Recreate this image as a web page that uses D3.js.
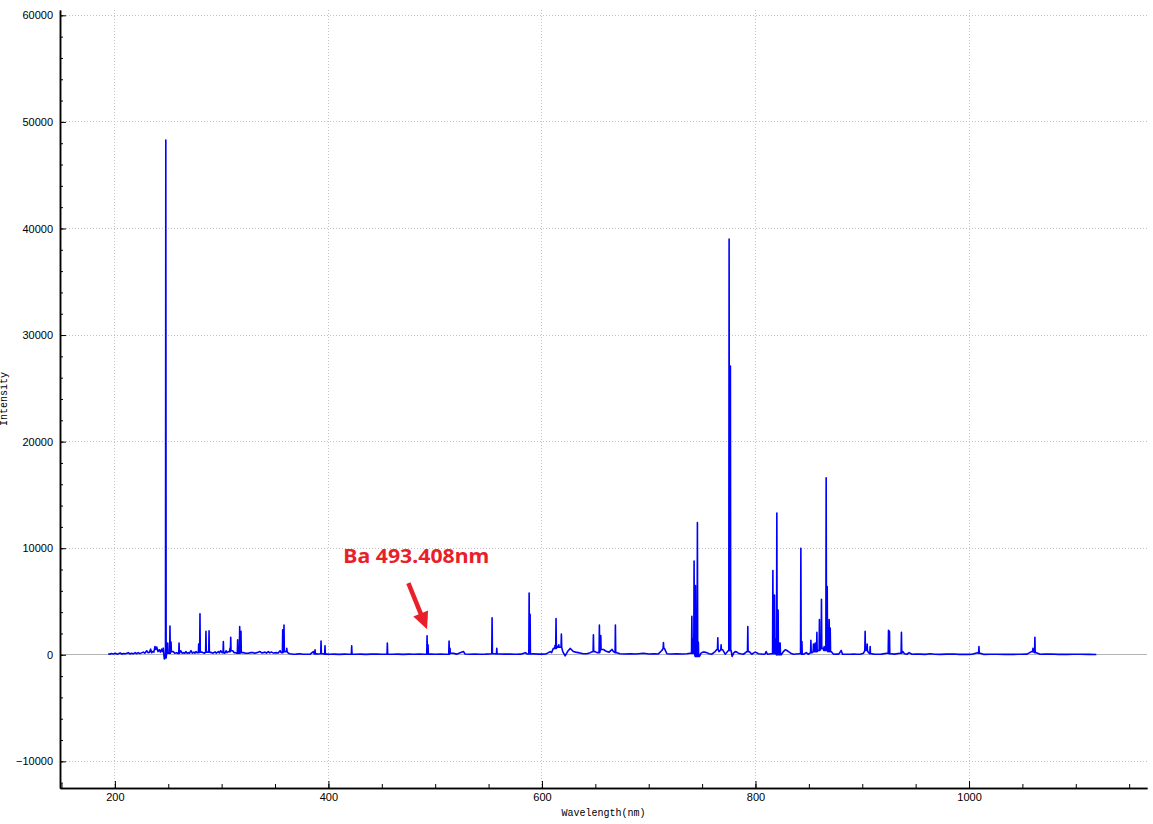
<!DOCTYPE html>
<html><head><meta charset="utf-8">
<script src="https://cdn.jsdelivr.net/npm/d3@7/dist/d3.min.js"></script>
<style>body{margin:0;background:#fff}svg{display:block}</style>
</head><body>
<svg id="chart" width="1153" height="824"></svg>
<script>
// ---- data ----
const xTickValues = [200, 400, 600, 800, 1000];
const yTickValues = [-10000, 0, 10000, 20000, 30000, 40000, 50000, 60000];
const xAxisTitle = "Wavelength(nm)";
const yAxisTitle = "Intensity";
const annotationText = "Ba 493.408nm";

// continuum / noise of the spectrum (nm, counts)
const baselineWavelengths = [
 193.8,195.0,196.5,198.5,200.5,202.0,203.2,205.0,206.5,207.9,210.0,212.6,214.0,215.5,217.2,219.0,220.5,221.9,223.5,225.0,
 226.6,228.0,229.8,231.0,232.5,233.5,234.5,235.4,236.5,237.6,238.4,239.2,240.4,241.6,242.7,243.8,244.6,245.3,246.3,247.2,
 248.5,250.5,254.7,256.0,257.9,259.0,261.6,263.0,264.1,265.5,266.6,267.5,268.8,270.0,271.3,272.5,274.1,275.0,276.0,277.0,
 281.3,282.8,284.0,286.5,290.7,292.0,293.8,295.0,296.9,298.0,299.1,300.5,303.0,304.1,305.0,306.3,310.4,311.5,313.0,314.0,
 320.3,322.5,325.0,327.0,329.7,331.0,333.0,335.9,337.5,339.0,340.6,342.0,343.7,345.0,346.9,348.5,350.0,351.6,353.0,354.7,
 355.7,359.6,362.5,364.0,367.1,370.0,373.4,376.0,379.7,383.0,385.9,386.7,388.5,390.6,394.7,398.5,401.5,405.0,410.0,415.0,
 419.0,425.0,430.0,435.0,440.0,445.3,450.0,460.0,465.0,470.0,475.0,480.0,485.0,490.0,496.0,500.0,505.0,510.0,517.0,520.0,
 526.4,528.0,532.0,537.0,542.0,547.0,551.0,555.0,560.0,565.0,570.0,575.0,580.0,584.5,586.0,592.0,596.0,600.0,604.0,607.6,
 609.0,610.7,617.0,619.5,621.7,624.0,626.4,628.0,629.5,631.5,634.1,636.5,638.8,642.0,645.1,646.5,649.8,651.5,657.6,659.0,
 660.7,663.0,665.7,666.9,670.1,673.0,677.0,682.6,688.0,695.0,700.0,705.0,709.0,712.3,714.7,717.0,721.0,726.3,731.0,735.7,
 738.8,747.5,749.0,750.7,752.5,754.4,756.5,759.1,762.2,763.8,765.9,769.4,771.6,774.7,777.2,778.1,779.5,781.0,782.5,784.0,
 786.0,788.7,791.9,794.1,796.6,798.0,799.7,801.0,802.8,805.0,807.5,809.0,810.0,811.2,813.0,815.3,824.1,826.2,827.8,829.5,
 830.9,833.0,835.6,838.0,841.2,845.0,847.5,849.6,853.1,855.3,856.5,858.7,863.1,865.3,870.9,873.1,876.0,878.0,880.3,881.5,
 885.6,888.7,891.8,895.0,898.1,901.2,903.7,905.8,908.6,911.0,913.7,918.0,923.1,926.8,930.0,935.5,938.0,939.5,941.8,943.9,
 946.5,950.0,954.3,959.0,963.6,968.0,973.0,979.0,985.4,991.0,998.0,1003.0,1007.9,1010.5,1013.6,1020.0,1026.1,1034.0,1041.7,1048.0,
 1054.3,1058.5,1063.0,1066.7,1071.0,1076.1,1084.0,1091.7,1098.0,1104.2,1112.0,1119.2
];
const baselineIntensities = [
 100,60,120,80,150,60,100,170,60,120,90,200,80,150,90,200,100,200,110,180,
 250,150,380,200,250,530,200,300,250,780,500,720,300,470,250,530,300,620,-400,-300,
 200,150,300,150,200,120,380,150,200,150,300,150,200,150,380,150,250,150,300,200,
 250,200,150,250,200,150,280,150,300,180,380,200,150,380,200,300,380,200,200,150,
 200,150,150,200,200,150,200,300,180,200,250,150,300,180,250,160,180,200,160,380,
 200,300,150,100,50,60,100,50,50,60,300,80,100,80,100,60,50,60,40,60,
 50,50,60,40,60,80,50,50,60,40,60,50,60,50,60,50,60,50,150,60,
 300,80,50,60,50,60,80,100,80,60,60,50,60,200,80,100,60,60,80,300,
 200,600,700,300,-100,300,600,450,300,250,200,150,100,100,200,250,300,200,500,400,
 300,250,500,300,200,100,80,100,80,150,80,100,80,400,600,100,80,100,80,100,
 150,-150,150,250,250,200,100,50,300,500,300,470,50,400,400,-150,150,300,250,150,
 100,50,300,300,50,150,250,200,100,80,50,80,300,50,80,100,0,300,470,400,
 300,150,50,80,100,50,200,50,200,300,300,400,600,400,300,50,80,60,400,50,
 50,50,80,50,50,150,400,200,100,60,50,60,150,100,60,150,300,100,50,200,
 50,60,60,40,100,50,40,60,80,40,40,50,200,150,40,50,50,40,40,50,
 60,300,200,50,60,80,40,40,50,50,40,30
];

// emission lines (nm, peak counts)
const peakWavelengths = [
 247.7,249.5,251.6,252.6,260.1,278.5,279.7,285.3,288.2,301.6,307.8,308.5,315.0,316.9,318.1,357.2,358.4,361.0,387.5,393.1,
 396.8,421.8,455.2,492.4,493.3,513.0,513.9,553.3,557.7,588.0,588.9,612.3,613.2,614.5,615.8,618.2,648.2,653.8,655.1,668.8,
 713.8,740.4,741.3,742.5,743.8,745.6,746.5,764.7,767.8,775.3,776.5,792.8,816.3,817.2,817.8,818.7,820.0,821.2,822.5,823.1,
 842.5,843.5,851.9,854.3,855.9,857.5,859.9,861.8,864.3,866.2,867.2,868.1,869.0,870.0,902.7,904.6,907.4,924.6,925.5,936.7,
 1009.3,1059.9,1061.7
];
const peakIntensities = [
 48300,1100,2700,1200,1100,1000,3840,2200,2250,1250,600,1650,1400,2650,2200,2350,2800,600,470,1300,
 850,840,1100,1780,940,1280,600,3470,600,5800,3800,900,3400,800,940,1940,1875,2780,1800,2800,
 1150,3600,1500,8800,6500,12400,1200,1600,940,39000,27100,2650,7900,3000,5600,1500,13300,4200,1100,1100,
 10000,1250,1350,1000,1100,2100,3300,5200,780,16600,6400,2500,3300,2500,2200,1000,780,2300,2200,2100,
 780,600,1650
];

// ---- layout ----
const svg = d3.select("#chart");
const plotLeft = 60, plotRight = 1147, plotTop = 10, plotBottom = 788;
const x = d3.scaleLinear().domain([148.6, 1166.7]).range([plotLeft, plotRight]);
const y = d3.scaleLinear().domain([-12500, 60500]).range([plotBottom, plotTop]);

const gridColor = "#c4c4c4";
const g = svg.append("g");

// grid
g.append("g").selectAll("line").data(yTickValues).join("line")
  .attr("x1", plotLeft).attr("x2", plotRight)
  .attr("y1", d => y(d)).attr("y2", d => y(d))
  .attr("stroke", gridColor).attr("stroke-dasharray", "1,2").attr("shape-rendering","crispEdges");
g.append("g").selectAll("line").data(xTickValues).join("line")
  .attr("x1", d => x(d)).attr("x2", d => x(d))
  .attr("y1", plotTop).attr("y2", plotBottom)
  .attr("stroke", gridColor).attr("stroke-dasharray", "1,2").attr("shape-rendering","crispEdges");

// zero line
g.append("line").attr("x1", plotLeft).attr("x2", plotRight)
  .attr("y1", y(0)).attr("y2", y(0))
  .attr("stroke", "#b4b4b4").attr("stroke-width", 1).attr("shape-rendering","crispEdges");

// spectrum: continuum points plus each line as a narrow spike
const base = baselineWavelengths.map((w, i) => [w, baselineIntensities[i]]);
const nearest = d3.bisector(d => d[0]).center;
const halfWidth = 0.3;
let pts = base.slice();
peakWavelengths.forEach((w, i) => {
  const b = base[nearest(base, w)][1];
  pts.push([w - halfWidth, b], [w, peakIntensities[i]], [w + halfWidth, b]);
});
pts.sort((a, b) => a[0] - b[0]);
const spectrumLine = d3.line().x(d => x(d[0])).y(d => y(d[1]));
g.append("path").datum(pts)
  .attr("d", spectrumLine).attr("fill", "none")
  .attr("stroke", "#0000ff").attr("stroke-width", 1.6).attr("stroke-linejoin", "round");

// axes
const fontTick = "'Liberation Sans', Arial, sans-serif";
const xAxisMinor = d3.axisBottom(x).tickValues(x.ticks(20)).tickSize(-4).tickSizeOuter(0).tickFormat("");
const xAxisMajor = d3.axisBottom(x).tickValues(xTickValues).tickSize(-7).tickSizeOuter(0).tickPadding(5).tickFormat(d3.format("d"));
const yAxisMinor = d3.axisLeft(y).tickValues(y.ticks(40)).tickSize(-3).tickSizeOuter(0).tickFormat("");
const yAxisMajor = d3.axisLeft(y).tickValues(yTickValues).tickSize(-6).tickSizeOuter(0).tickPadding(7).tickFormat(d3.format("d"));

function styleAxis(sel) {
  sel.selectAll("path.domain").attr("stroke", "#000").attr("stroke-width", 1.5);
  sel.selectAll(".tick line").attr("stroke", "#000").attr("stroke-width", 1);
  sel.selectAll("text").attr("font-family", fontTick).attr("font-size", 11).attr("fill", "#000");
}
g.append("g").attr("transform", `translate(0,${plotBottom})`).call(xAxisMinor).call(styleAxis);
g.append("g").attr("transform", `translate(0,${plotBottom})`).call(xAxisMajor).call(styleAxis);
g.append("g").attr("transform", `translate(${plotLeft},0)`).call(yAxisMinor).call(styleAxis);
g.append("g").attr("transform", `translate(${plotLeft},0)`).call(yAxisMajor).call(styleAxis);

// axis titles
const fontTitle = "'Liberation Mono', 'DejaVu Sans Mono', monospace";
svg.append("text").attr("x", (plotLeft + plotRight) / 2).attr("y", 816)
  .attr("text-anchor", "middle").attr("font-family", fontTitle).attr("font-size", 10)
  .attr("fill", "#000").text(xAxisTitle);
svg.append("text").attr("transform", `translate(7,${(plotTop + plotBottom) / 2})rotate(-90)`)
  .attr("text-anchor", "middle").attr("font-family", fontTitle).attr("font-size", 10)
  .attr("fill", "#000").text(yAxisTitle);

// annotation
const red = "#e8202a";
svg.append("text").attr("x", x(414.0)).attr("y", y(8650))
  .attr("font-family", "'Noto Sans', 'Open Sans', sans-serif").attr("font-weight", "bold")
  .attr("font-size", 19.5).attr("fill", red)
  .attr("textLength", 146).attr("lengthAdjust", "spacingAndGlyphs")
  .text(annotationText);

const tail = [x(474.9), y(6720)], tip = [x(492.4), y(2400)];
const adx = tip[0] - tail[0], ady = tip[1] - tail[1], alen = Math.hypot(adx, ady);
const ux = adx / alen, uy = ady / alen, headLen = 17, headHalf = 8;
const hb = [tip[0] - ux * headLen, tip[1] - uy * headLen];
svg.append("line").attr("x1", tail[0]).attr("y1", tail[1])
  .attr("x2", hb[0] + ux * 2).attr("y2", hb[1] + uy * 2)
  .attr("stroke", red).attr("stroke-width", 4.5);
svg.append("path")
  .attr("d", `M${tip[0]},${tip[1]}L${hb[0] - uy * headHalf},${hb[1] + ux * headHalf}L${hb[0] + uy * headHalf},${hb[1] - ux * headHalf}Z`)
  .attr("fill", red);
</script>
</body></html>
